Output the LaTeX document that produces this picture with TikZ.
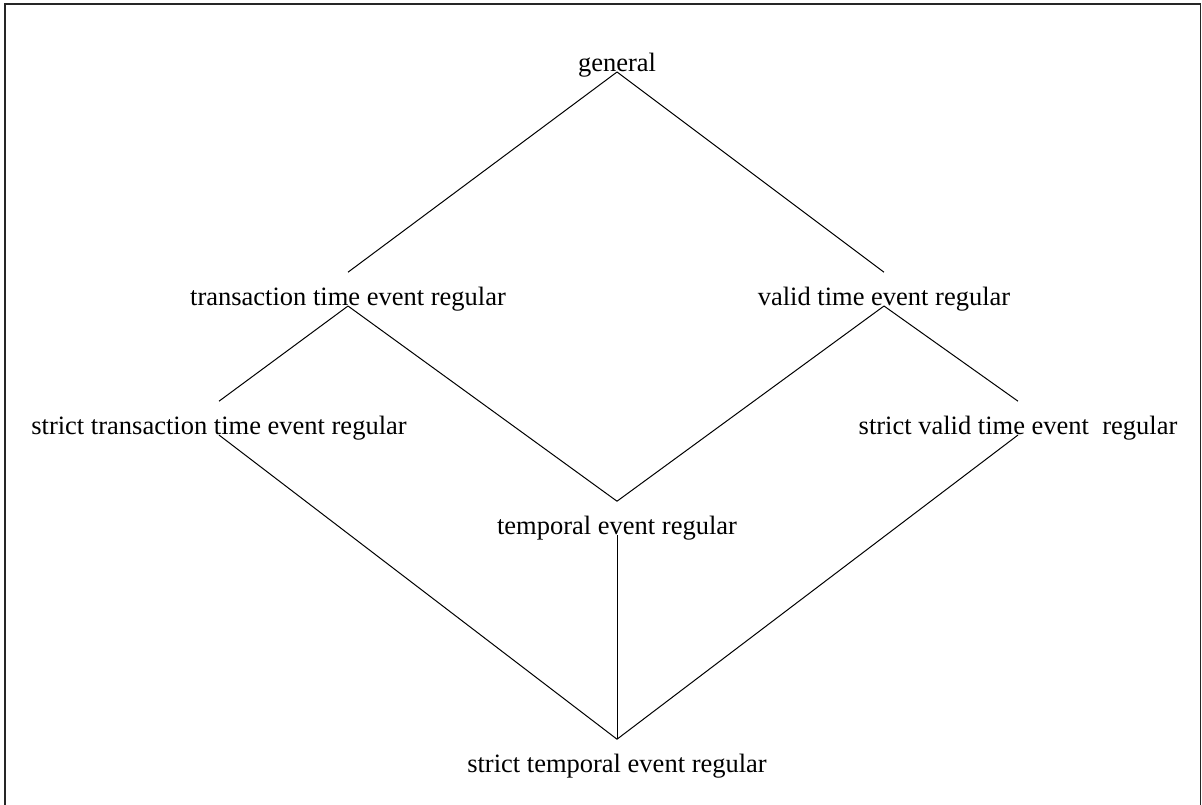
\documentclass[tikz,border=0pt]{standalone}
\usepackage{fontspec}
\setmainfont{Liberation Serif}

\begin{document}
\begin{tikzpicture}[x=0.5pt, y=-0.5pt,
  lattice/.style={anchor=south, inner sep=0pt, text height=16.5pt, text depth=0pt, font=\fontsize{13.25}{15}\selectfont},
  edge/.style={line width=0.5pt}]

% command drawing dimensions
\newcommand{\pwidth}{1202}
\newcommand{\pheight}{804}
\newcommand{\xmid}{617}
\newcommand{\xleft}{348}
\newcommand{\xright}{884}

% ad hoc bounding box
\useasboundingbox (0, 0) rectangle (\pwidth, \pheight);

% frame
\draw[line width=0.8pt, black!85] (5, 4) rectangle (1200.5, 808);

% levels of the lattice
\node[lattice] (general) at (\xmid, 72) {general};
\node[lattice] (txreg) at (\xleft, 306) {transaction time event regular};
\node[lattice] (vtreg) at (\xright, 306) {valid time event regular};
\node[lattice] (stxreg) at (219, 435) {strict transaction time event regular};
\node[lattice] (svtreg) at (1018, 435) {strict valid time event\ \ regular};
\node[lattice] (tempreg) at (\xmid, 535) {temporal event regular};
\node[lattice] (stempreg) at (\xmid, 773) {strict temporal event regular};

% edges
\draw[edge] (general.south) -- (txreg.north);
\draw[edge] (general.south) -- (vtreg.north);
\draw[edge] (txreg.south) -- (stxreg.north);
\draw[edge] (txreg.south) -- (tempreg.north);
\draw[edge] (vtreg.south) -- (tempreg.north);
\draw[edge] (vtreg.south) -- (svtreg.north);
\draw[edge] (stxreg.south) -- (stempreg.north);
\draw[edge] (tempreg.south) -- (stempreg.north);
\draw[edge] (svtreg.south) -- (stempreg.north);

\end{tikzpicture}
\end{document}
